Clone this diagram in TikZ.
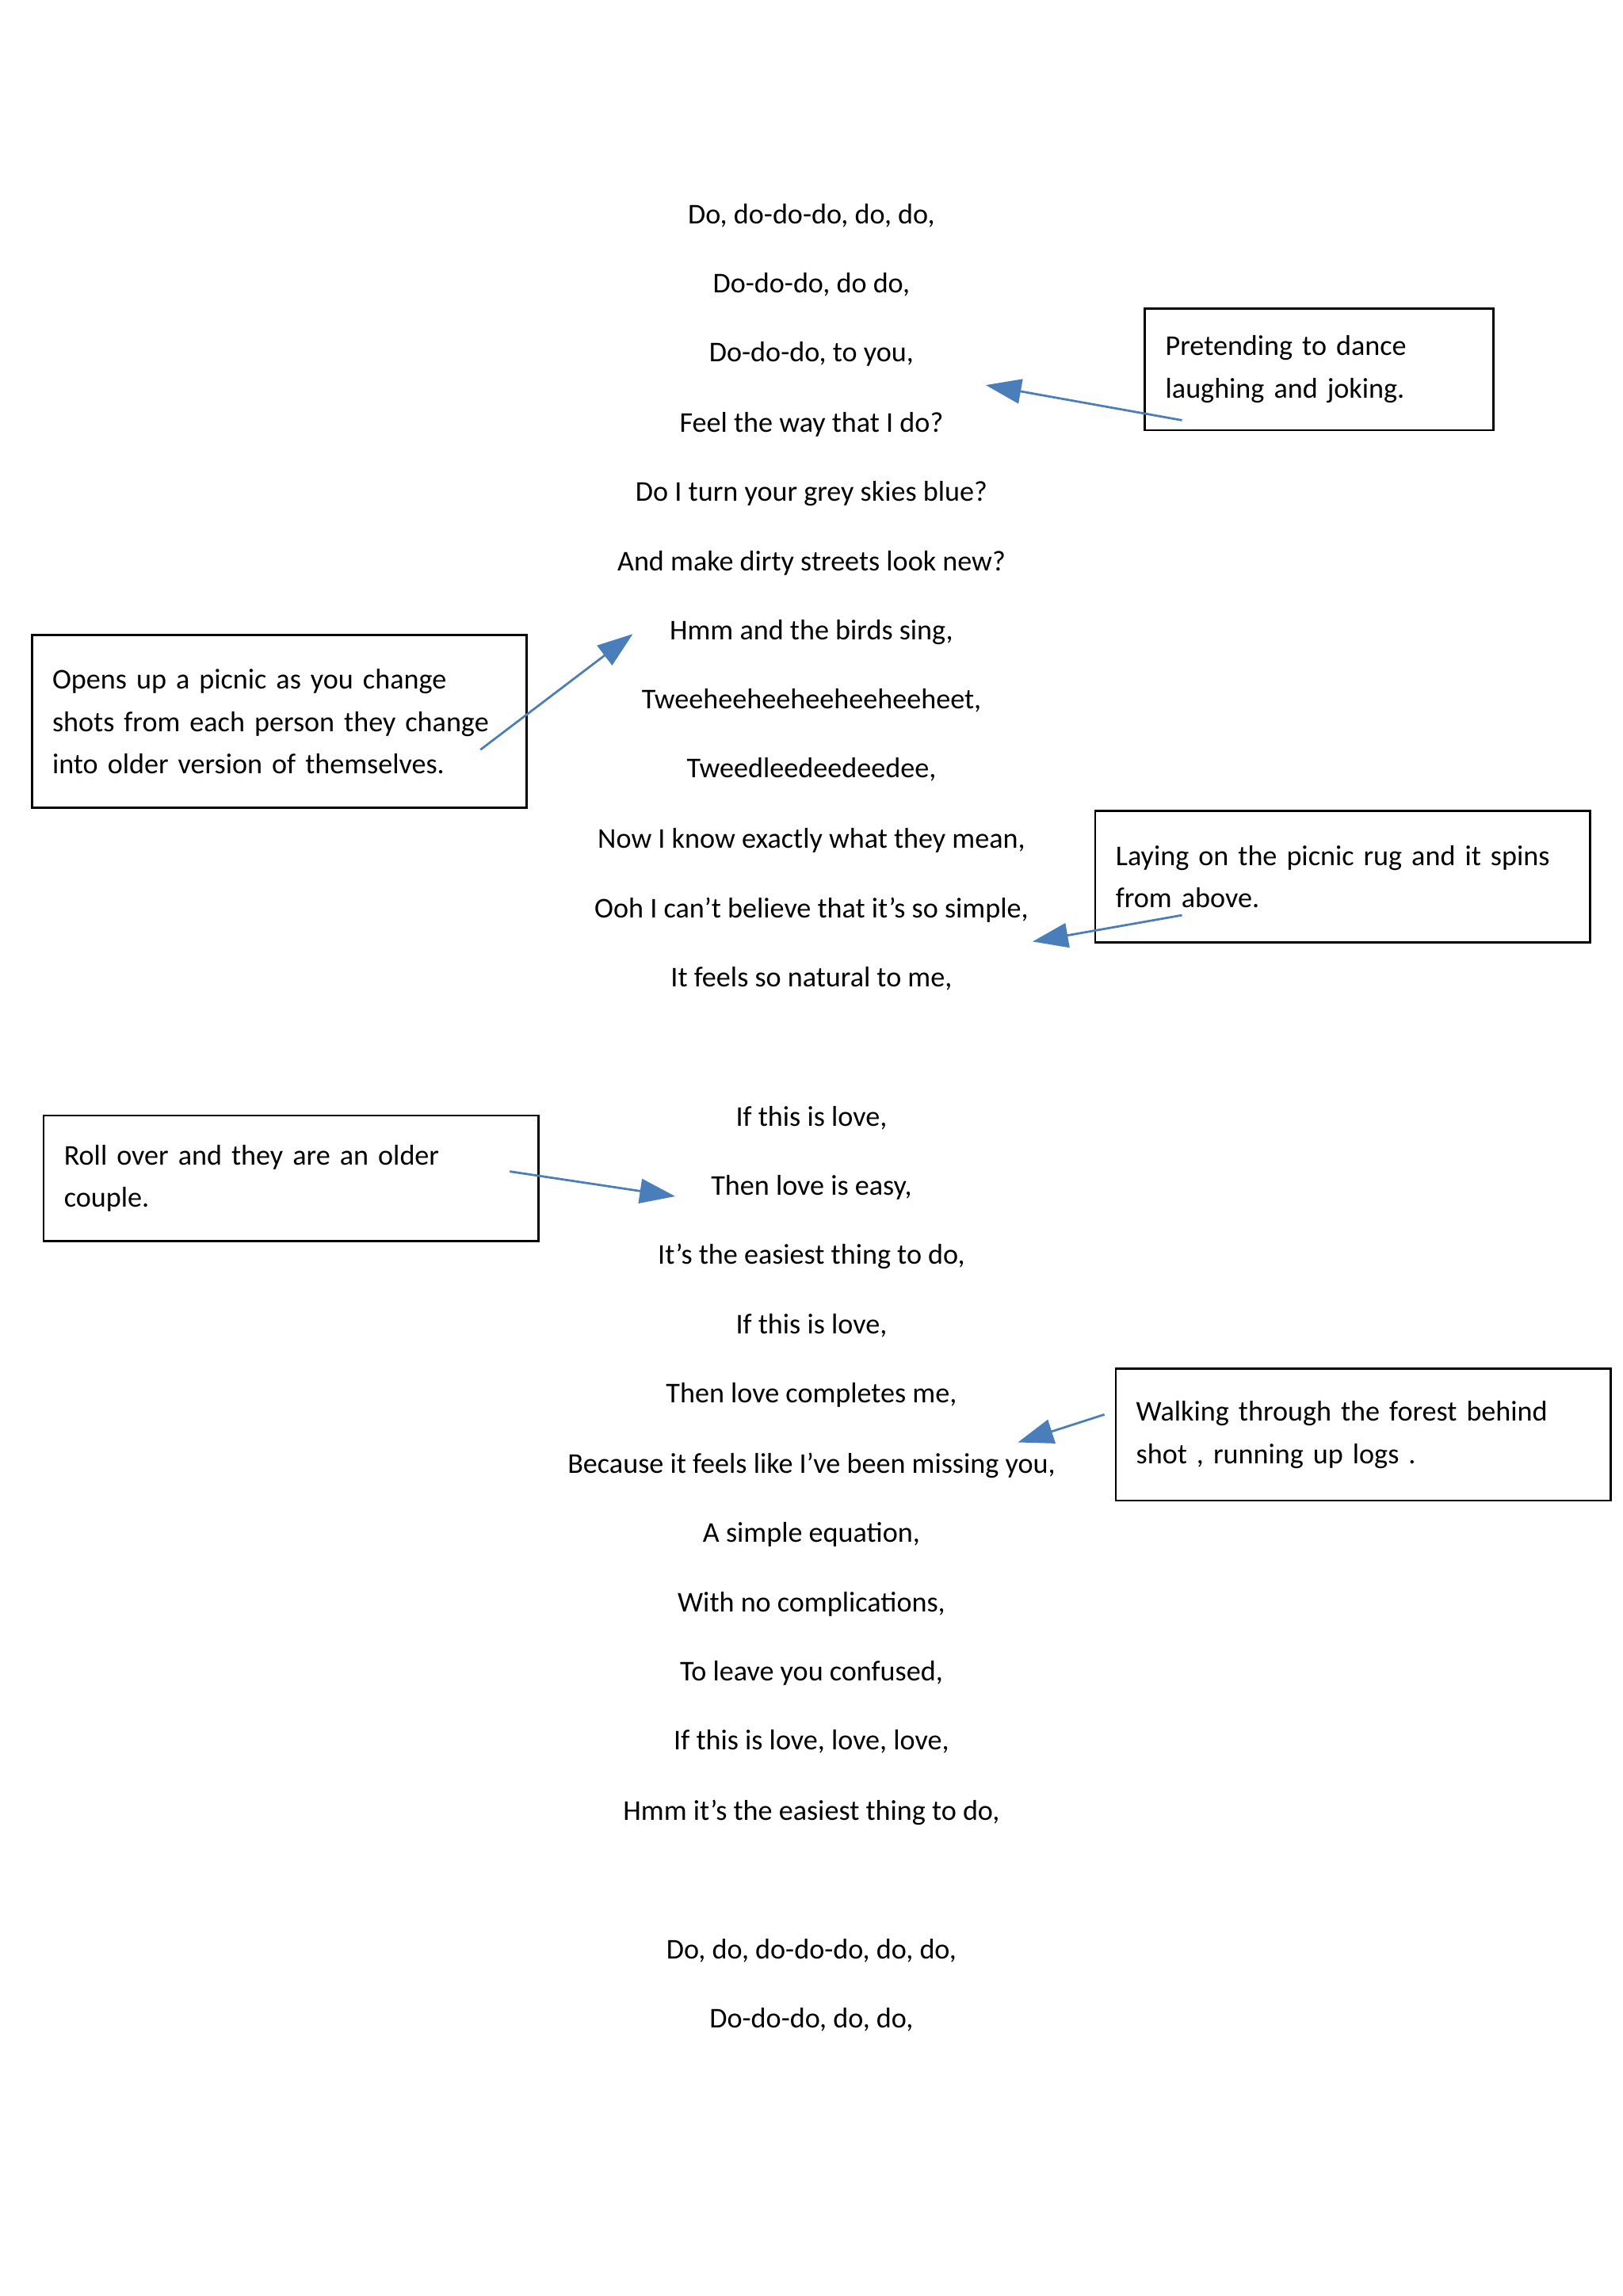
\documentclass[tikz,border=0pt]{standalone}
\usepackage{fontspec}
\setmainfont{Carlito}
\usetikzlibrary{arrows.meta}
\tikzset{
  lyric/.style={font=\fontsize{10.5}{12}\selectfont, anchor=base},
  note/.style={draw, thick, anchor=north west, align=left, inner xsep=7.5pt, inner ysep=6pt,
    font=\fontsize{10.5}{15.6}\selectfont},
  pointer/.style={draw={rgb,255:red,74;green,126;blue,187}, thick,
    -{Triangle[length=13pt,width=9pt,fill={rgb,255:red,74;green,126;blue,187}]}}
}
\begin{document}
\begin{tikzpicture}[x=0.537pt,y=-0.537pt]
\useasboundingbox (0,0) rectangle (1108,1568);
% lyrics
\foreach \n/\y/\t in {1/147/{Do, do-do-do, do, do,},2/194/{Do-do-do, do do,},3/241/{Do-do-do, to you,},
 4/289/{Feel the way that I do?},5/336/{Do I turn your grey skies blue?},6/384/{And make dirty streets look new?},
 7/431/{Hmm and the birds sing,},8/478/{Tweeheeheeheeheeheeheet,},9/525/{Tweedleedeedeedee,},
 10/573/{Now I know exactly what they mean,},11/621/{Ooh I can't believe that it's so simple,},
 12/668/{It feels so natural to me,},13/763/{If this is love,},14/810/{Then love is easy,},
 15/857/{It's the easiest thing to do,},16/905/{If this is love,},17/952/{Then love completes me,},
 18/1000/{Because it feels like I've been missing you,},19/1047/{A simple equation,},
 20/1095/{With no complications,},21/1142/{To leave you confused,},22/1189/{If this is love, love, love,},
 23/1237/{Hmm it's the easiest thing to do,},24/1332/{Do, do, do-do-do, do, do,},25/1379/{Do-do-do, do, do,}}
  \node[lyric] (l\n) at (554,\y+6) {\t};
% notes
\node[note, minimum width=237*0.537pt, minimum height=83*0.537pt, text width=210*0.537pt] (dance) at (781,210)
  {Pretending to dance\\laughing and joking.};
\node[note, minimum width=335*0.537pt, minimum height=118*0.537pt, text width=310*0.537pt] (picnic) at (21,433)
  {Opens up a picnic as you change\\shots from each person they change\\into older version of themselves.};
\node[note, minimum width=335*0.537pt, minimum height=90*0.537pt, text width=310*0.537pt] (rug) at (747,553)
  {Laying on the picnic rug and it spins\\from above.};
\node[note, minimum width=335*0.537pt, minimum height=86*0.537pt, text width=310*0.537pt] (roll) at (29,761)
  {Roll over and they are an older\\couple.};
\node[note, minimum width=335*0.537pt, minimum height=90*0.537pt, text width=310*0.537pt] (forest) at (761,934)
  {Walking through the forest behind\\shot , running up logs .};
% pointers
\coordinate (dance s) at (807,287); \coordinate (dance e) at (673,263);
\coordinate (picnic s) at (328,512); \coordinate (picnic e) at (432,433);
\coordinate (rug s) at (807,625); \coordinate (rug e) at (705,643);
\coordinate (roll s) at (348,800); \coordinate (roll e) at (461,817);
\coordinate (forest s) at (754,966); \coordinate (forest e) at (695,985);
\foreach \a in {dance,picnic,rug,roll,forest}
  \draw[pointer] (\a\space s) -- (\a\space e);
\end{tikzpicture}
\end{document}
